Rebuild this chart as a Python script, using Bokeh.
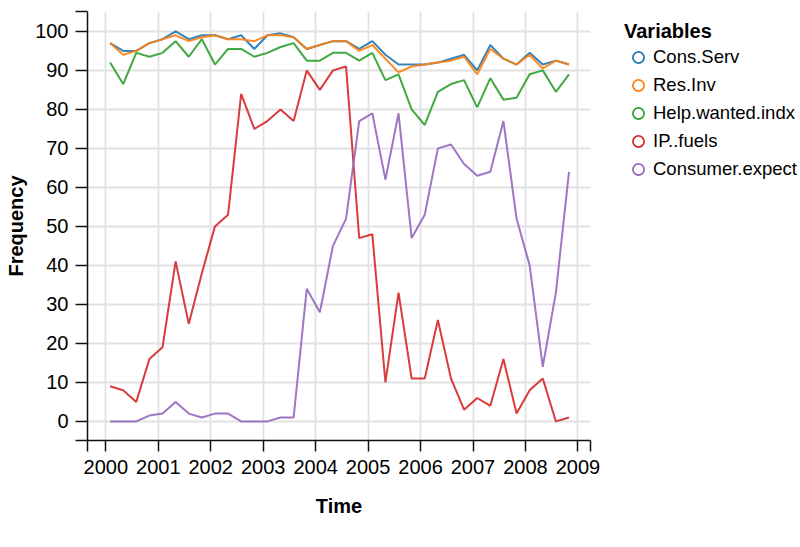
from bokeh.plotting import figure
from bokeh.models import FixedTicker, Legend, LegendItem, Range1d
from bokeh.embed import file_html
from bokeh.resources import INLINE

# Quarterly observation times (decimal years)
time = [2000.08, 2000.33, 2000.58, 2000.83,
        2001.08, 2001.33, 2001.58, 2001.83,
        2002.08, 2002.33, 2002.58, 2002.83,
        2003.08, 2003.33, 2003.58, 2003.83,
        2004.08, 2004.33, 2004.58, 2004.83,
        2005.08, 2005.33, 2005.58, 2005.83,
        2006.08, 2006.33, 2006.58, 2006.83,
        2007.08, 2007.33, 2007.58, 2007.83,
        2008.08, 2008.33, 2008.58, 2008.83]

cons_serv = [97, 95, 95, 97, 98, 100, 98, 99, 99, 98, 99, 95.5,
             99, 99.5, 98.5, 95.5, 96.5, 97.5, 97.5, 95.5, 97.5, 94, 91.5, 91.5,
             91.5, 92, 93, 94, 90, 96.5, 93, 91.5, 94.5, 91.5, 92.5, 91.5]
res_inv = [97, 94, 95, 97, 98, 99, 97.5, 98.5, 99, 98, 98, 97.5,
           99, 99, 98.5, 95.5, 96.5, 97.5, 97.5, 95, 96.5, 93, 89.5, 91,
           91.5, 92, 92.5, 93.5, 89, 95.5, 93, 91.5, 94, 90.5, 92.5, 91.5]
help_wanted = [92, 86.5, 94.5, 93.5, 94.5, 97.5, 93.5, 98, 91.5, 95.5, 95.5, 93.5,
               94.5, 96, 97, 92.5, 92.5, 94.5, 94.5, 92.5, 94.5, 87.5, 89, 80,
               76, 84.5, 86.5, 87.5, 80.5, 88, 82.5, 83, 89, 90, 84.5, 89]
ip_fuels = [9, 8, 5, 16, 19, 41, 25, 38, 50, 53, 84, 75,
            77, 80, 77, 90, 85, 90, 91, 47, 48, 10, 33, 11,
            11, 26, 11, 3, 6, 4, 16, 2, 8, 11, 0, 1]
consumer_expect = [0, 0, 0, 1.5, 2, 5, 2, 1, 2, 2, 0, 0,
                   0, 1, 1, 34, 28, 45, 52, 77, 79, 62, 79, 47,
                   53, 70, 71, 66, 63, 64, 77, 52, 40, 14, 33, 64]

series_names = ["Cons.Serv", "Res.Inv", "Help.wanted.indx", "IP..fuels", "Consumer.expect"]
series_values = [cons_serv, res_inv, help_wanted, ip_fuels, consumer_expect]
colors = ["#1f77b4", "#ff7f0e", "#2ca02c", "#d62728", "#9467bd"]

year_ticks = [2000, 2001, 2002, 2003, 2004, 2005, 2006, 2007, 2008, 2009]
freq_ticks = [0, 10, 20, 30, 40, 50, 60, 70, 80, 90, 100]
x_lo, x_hi = 1999.65, 2009.24
y_lo, y_hi = -4.9, 105.1

FONT = "Liberation Sans"

p = figure(frame_width=503, frame_height=429,
           min_border_left=87, min_border_top=11, min_border_right=210, min_border_bottom=98,
           x_range=Range1d(x_lo, x_hi), y_range=Range1d(y_lo, y_hi),
           output_backend="svg", toolbar_location=None)
p.outline_line_color = None
p.background_fill_color = "white"
p.border_fill_color = "white"

p.xaxis.ticker = FixedTicker(ticks=year_ticks, minor_ticks=[x_lo, x_hi])
p.yaxis.ticker = FixedTicker(ticks=freq_ticks, minor_ticks=[y_lo, y_hi])
p.xgrid.ticker = FixedTicker(ticks=year_ticks)
p.ygrid.ticker = FixedTicker(ticks=freq_ticks)
for g in (p.xgrid, p.ygrid):
    g.grid_line_color = "#e2e2e2"
    g.grid_line_width = 1.8

for ax in p.axis:
    ax.axis_line_color = "#111111"
    ax.axis_line_width = 1.5
    ax.major_tick_line_color = "#111111"
    ax.major_tick_line_width = 1.5
    ax.minor_tick_line_color = "#111111"
    ax.minor_tick_line_width = 1.5
    ax.major_tick_in = 0
    ax.minor_tick_in = 0
    ax.major_label_text_font = FONT
    ax.major_label_text_font_size = "20px"
    ax.major_label_text_color = "#000000"
    ax.axis_label_text_font = FONT
    ax.axis_label_text_font_size = "20px"
    ax.axis_label_text_font_style = "bold"
    ax.axis_label_text_color = "#000000"

p.xaxis.axis_label = "Time"
p.xaxis.major_tick_out = 11
p.xaxis.minor_tick_out = 11
p.xaxis.major_label_standoff = 8
p.xaxis.axis_label_standoff = 18

p.yaxis.axis_label = "Frequency"
p.yaxis.major_tick_out = 12
p.yaxis.minor_tick_out = 12
p.yaxis.major_label_standoff = 7
p.yaxis.axis_label_standoff = 5

items = []
for name, vals, c in zip(series_names, series_values, colors):
    p.line(time, vals, line_color=c, line_width=2, line_alpha=0.9)
    sc = p.scatter(time, vals, marker="circle", size=0, fill_color=None,
                   line_color=c, line_width=1.7)
    items.append(LegendItem(label=name, renderers=[sc]))

legend = Legend(items=items, location=(34, 257), orientation="vertical",
                title="Variables", title_text_font=FONT, title_text_font_size="20px",
                title_text_font_style="bold", title_text_color="#000000", title_standoff=0,
                glyph_width=28, glyph_height=28, label_height=28, spacing=0,
                padding=0, margin=0, label_standoff=1,
                label_text_font=FONT, label_text_font_size="18.5px",
                label_text_color="#000000",
                border_line_color=None, background_fill_alpha=0)
p.add_layout(legend, "right")

open("out.html", "w").write(file_html(p, INLINE))
